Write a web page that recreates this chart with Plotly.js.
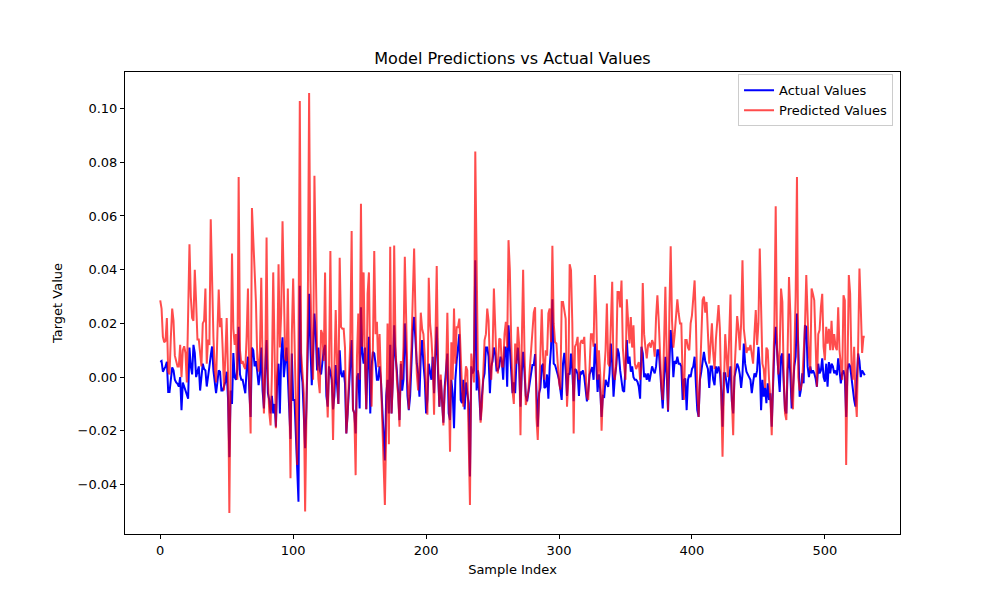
<!DOCTYPE html>
<html>
<head>
<meta charset="utf-8">
<script src="https://cdn.plot.ly/plotly-3.0.1.min.js"></script>
<style>
  html, body { margin: 0; padding: 0; background: #ffffff; }
  #chart { width: 1000px; height: 600px; }
</style>
</head>
<body>
<div id="chart"></div>
<script>
// Values, in thousandths of the target unit (value / 1000).
const actualMilli = [
  5.7, 6, 2, 3, 4, 5.7, -5.5, -5.5, 0, 3.6, 2.5, -1, -2, -2.5, -3.5, 0, -12.3, -2, -3.5, -5,
  -6, -8, 11, 4, 1, 12, 9, 0, 2, 4, -5, 1, 5, 3, 2.5, -3.5, 1.4, 4, 8, 11.4,
  2.5, -1, -6, -2, 2.5, 2, -5, -5, -3, -1.7, 2, -8, -29.8, -5, -10, 9, 0, -1, 3, 18.7,
  1, -1, -1, -3, -6, 3, 7.6, -5, -14.8, 11, 10, 4, 6, 2, -3, 1, 11, -5, -11.7, 3,
  13.8, -6, -8.5, -13.5, -7, -13.5, -10, -18.5, -1, 5, -13.5, 8, 14.8, 0, 5, 11, 0, -15, -23, 8.8,
  -8.5, -8.5, -20, -32.7, -46.4, 34, 2.5, -2, -15, -26.5, -11, 15, 31, 11, -3, 9, 23.7, 16, 2.5, 11,
  2.5, 1, 6, 10, 12, -7, -11, 4,
  2, -1, -12, -7, 4.5, -3.5, -10, 10, 1.4, 0, 2.5, -2.3, -21, -13.5, -1, 5, 13.8, -12, -13.5, -21,
  0, 1.4, -11.7, 26, 8.8, 5, 11, -12, 5, 15, -13.5, 4, 9.4, 8.8, 5, -1, -1, 4, -1, -13.5,
  -21, -31, -7, -1, -13.5, 12, -13.5, -1, 19.3, 7.6, 2.5, -6, -16, 5, -5, -1, 20, 8.8, -7, -12.3,
  -7, 5, 17.5, 22.4, 13.8, 5, 1.4,
  -7.3, 7.6, 13.8, 5, -1, -13.5, -8.5, 5, 1.4, -1, 7.6, -6, 7.6, 18.7, 1.4, -11, -1, -8.5, -17, -3.6,
  1.4, 8.8, -13.5, -16, -1, -6, -19, -1, 6, 11, 16, -8.5, -9.7, -1, -12, -2, -5, -9.7, -37, 4,
  1.4, 2.5, 43.5, -5, 2.5, -5, -16, -7.3, -1, 1.4, 11, 11, 7.6, -6, 4, 6, 11, 8.8, 2.5, 2.5,
  4, 7.6, 6, -1, 11, 11, -3.6, 19.3,
  12, 2, -6, -2, -6, 6, 11, 4, -11, 2, 9.4, 2, -7, -9, -5, -1, 1.4, 4.5, 4.5, 8.6,
  -5, -18.5, -6, -4, 4, 5, -4, -3.6, 1, -8, 4, 11, 29, 5, 4.5, 3, 1, -1, -5, -8.5,
  5, 9, 2.5, -7, 1.4, 1, 8.8, 2.5, -9, 3, 2.5, 1, -7, 2, 1.4, 2.5, 0, -5, -9, -5,
  1, 2.5, 3.7, -1, 12.5, 5, -5.5,
  1, -5, -14.8, -7, -7.3, -1, -2.3, -3.6, 1.4, 12.5, 5, -7.3, 0, 4, 10.7, 8.8, 2.5, -1, -5, -5.5,
  2.5, 13.8, 5, 7.6, 2, 4, 0, -1, -1, -1.7, -3.6, -8, 11.3, 8.8, 0, 1.4, -1, 1.4, -1.7, 1.4,
  4, 2.5, 1.4, 4, 10, 10, 2.5, -5, -11.7, -1, 7.6, 1.4, -12.9, 5, 17.5, 11.3, 0, 6, 5, 7.6,
  5, 5, 4, -8.5, -1, -0.5, -12.3, -1,
  1, 0, 3, 4, 7.6, -3, -12.3, -14.8, -1, 2, 6, 9.4, 6, 4.5, 3, -4, 4, 4, -1, -3,
  4, 1.4, 4, 2, -5, -18.5, 1.4, 1.4, -3, -6, 0, 4, -9, -13.5, 0, 2.5, 5, 3.7, 1, -4,
  1, 12.5, 5, 2, 0.6, 0, -1, -6, -2, 1.4, 0, 2.5, 11.3, 4, -12.3, -1, -7.3, -4, -9.7, -2.3,
  -8.5, -6, -18.5, 1.4, 11.3, 18.7, 7.6, 1.4, -5.5, 7.6, 8.8,
  -3.6, -12.3, -13.5, 2.5, 8.8, 1.4, -11.7, -1, 4, 7.6, 23.7, 11, -7.3, -4.6, 1.4, -2.3, 19.3, 18.7, 4, 0,
  4, 1.4, 2.5, 1.4, -0.5, -3.6, 5, 1.4, 2.5, 7, 0, -1.7, 5, -3.6, 5.6, 1.4, 5, 4, 1.4, 2.5,
  0.7, 7, 1.4, -2.3, 1.4, 2.5, 0, -14.8, 2.5, 5, 4, -1, -3.6, -8.5, -11, 1.4, 8.8, 6, 0, 2.5,
  1.4, 0.7
];

const predictedMilli = [
  28.6, 25.5, 15, 13, 13.5, 22, 2, 1, 15, 25.5, 21, 8, 6, 4, 4, 12, 0, 10, 11.5, 9,
  -2, 20, 49.5, 30, 22, 21, 40, 28, 14, 14, 10, 4, 20, 21, 33, 5, 14, 12, 58.8, 35,
  15, 3, -2, 16, 32.6, 18.6, 22, 10, -5, 8, 22, 1, -50.6, 5, 46, 18, 12, 16, -1, 74.5,
  10, 5, 6, 4, 3, 15, 33, -1, -21, 63, 52, 45, 28, 7, 2, 10, 37, 4, -13.5, 2,
  52, 0, -13, -18, 1, 39, -1, -19, 4, 42, 11, 24, 58, 30, 7, 6, 33, -1, -37.7, 16,
  36.7, 14, -7, -32.7, 11, 102.8, 9, -1, -6, -50, -1, 24, 105.8, 36, 9, -1, 75, 30, 9, -1,
  -6, 17.5, 16, 6, 39, -1, -15, 5,
  47, 3, -23.4, 2.5, 25, 5, -10, 44.4, 18.7, 18, 18, 11, -21, -13.5, 2.5, 14, 54.4, -12, -13.5, -36.5,
  7.6, 23.7, -1, 64.6, 11.3, 39, 5, -12, 31, 39, 2.5, -11, 11.3, 47, 16, 20.6, 3.7, 16, 0, -13.5,
  -31, -47.6, -19, 20, -25, 48.5, -13.5, -1, 49, 11.3, -1, -7, -18.5, 6, -1, 11.3, 44.8, 17.5, -1, -12,
  -1, 11.3, 30, 47.9, 23.7, 1.4, -5,
  5, 24, 18, 16, 8, -6, -14, 37, 20, 14.4, 5, -14, 15, 41.4, 5, -11, 1, -7, -18, -5,
  0, 24, -5, -27.8, 13, -1, 25.5, 5, 18.6, 18.6, 21.8, 5, -4, -11, -1, 4, 2.5, -20, -47.6, 8.8,
  2.5, -2, 84, 40, 2.5, -1, -17, -11, 5, 13.8, 16, 25.5, 21, 5, -1, 9, 33, 17.5, 5, 1.4,
  14.4, 14, 4, 4, 16, 20.6, 11, 51,
  40, 14, -5, -10, 12.5, 5, 18.7, 12, -21.6, 13, 40, 10, -10.4, -8, -5, 3, 11.3, 19, 24, 26,
  -15, -23.4, -5, 5, 25.3, 8, -1, 10, 8, 23.7, 25.5, 13, 48.9, 20, 13, 12.5, 4, -2, -4.6, 28,
  28, 24, 21.7, -11, -1, 42, 39.8, 20, -21, 11.3, 12.5, 15, -1, 12.5, 13.8, 12.5, 15, 2.5, -7.3, -8.5,
  5, 16, 16, 11.3, 38, 23.7, -1,
  10, 1, -20, -6, 4, 10, 27.4, 5, 4, 21, 35.5, 1.4, -1, 5, 31.7, 31.7, 26, 36, 11, 4,
  -1, 29, 22, 12.5, 22.4, 11, 19.3, 5, 3, 4, 5.6, -1, 4, 35, 16, 11, 7, 12, 12.5, 11,
  13.8, 12.5, 7.6, 22.4, 30.5, 21, 7.6, -3.6, -8.5, 11, 33.6, 7.6, -12.3, 23.7, 48.7, 21, 11, 16, 23.7, 29,
  23.7, 20, 20, -1, -8.5, 13.8, 13.8, 11,
  10, 20, 23, 30, 36, 20, -5, -14.8, 2, 15, 28.6, 30, 24, 28, 14, 5, 12, 20, 9, 3,
  14, 22, 26.8, 18, -1, -29.6, -5, 16, 8, 0, 15, 30.8, -8, -21.6, 2, 12, 22.7, 18, 10, 20,
  43.5, 18, 12, 9, 11, 10, 12, 9, 5, 16, 25, 12, 20, 47.9, 20, 5, 3, -4, 11, 10,
  -1, -8, -21.6, 3, 20, 63.6, 11, 1, 10, 33, 28,
  1, -13.5, -16, 11, 37.3, 23.7, -7, -12, 11, 30, 74.5, 0, -5, -4, -1, 7.6, 18.7, 38, 26, 7.6,
  2.5, 33, 31, 28.6, 12.5, -3.6, 16, 17.5, 26, 31, 11.3, 6.3, 18.7, 12.5, 18, 10, 21, 10, 16, 11.3,
  10, 26, 10, 5, -1, 30.5, 28.6, -32.7, -1, 38, 31, 5, -1, 11.3, -7.3, -14.8, 11.3, 40.4, 26, 9,
  15, 15
];

const seriesNames = ['Actual Values', 'Predicted Values'];
const chartTitle = 'Model Predictions vs Actual Values';
const xLabel = 'Sample Index';
const yLabel = 'Target Value';
const xTicks = [0, 100, 200, 300, 400, 500];
const yTicks = [-0.04, -0.02, 0.00, 0.02, 0.04, 0.06, 0.08, 0.10];

const actual = actualMilli.map(v => v / 1000);
const predicted = predictedMilli.map(v => v / 1000);
const sampleIndex = actual.map((_, i) => i);

const font = 'DejaVu Sans, Verdana, sans-serif';

const traces = [
  {
    x: sampleIndex, y: actual, type: 'scatter', mode: 'lines',
    name: seriesNames[0],
    line: { color: '#0000ff', width: 2 }
  },
  {
    x: sampleIndex, y: predicted, type: 'scatter', mode: 'lines',
    name: seriesNames[1],
    line: { color: 'rgba(255,0,0,0.7)', width: 2 }
  }
];

const xmin = 0, xmax = sampleIndex.length - 1;
const allY = actual.concat(predicted);
const ymin = Math.min(...allY), ymax = Math.max(...allY);
const xpad = (xmax - xmin) * 0.05, ypad = (ymax - ymin) * 0.05;

const axisCommon = {
  showgrid: false, zeroline: false, showline: true, mirror: true,
  linecolor: '#000', linewidth: 1,
  ticks: 'outside', ticklen: 4, tickwidth: 1, tickcolor: '#000',
  tickfont: { family: font, size: 13, color: '#000' }
};

const layout = {
  width: 1000, height: 600,
  paper_bgcolor: '#fff', plot_bgcolor: '#fff',
  margin: { l: 125, r: 100, t: 72, b: 66 },
  font: { family: font, color: '#000' },
  title: {
    text: chartTitle, font: { family: font, size: 16, color: '#000' },
    x: 0.5125, xanchor: 'center', y: 0.903, yanchor: 'middle'
  },
  xaxis: Object.assign({}, axisCommon, {
    range: [xmin - xpad, xmax + xpad],
    tickvals: xTicks, ticktext: xTicks.map(String),
    title: { text: xLabel, font: { family: font, size: 13, color: '#000' }, standoff: 8 }
  }),
  yaxis: Object.assign({}, axisCommon, {
    range: [ymin - ypad, ymax + ypad],
    tickvals: yTicks, ticktext: yTicks.map(v => (v < 0 ? '\u2212' : '') + Math.abs(v).toFixed(2)),
    title: { text: yLabel, font: { family: font, size: 13, color: '#000' }, standoff: 12 }
  }),
  showlegend: true,
  legend: {
    x: 0.991, xanchor: 'right', y: 0.995, yanchor: 'top',
    bgcolor: 'rgba(255,255,255,0.8)', bordercolor: '#cccccc', borderwidth: 1,
    font: { family: font, size: 13, color: '#000' },
    tracegroupgap: 0, itemwidth: 30
  }
};

Plotly.newPlot('chart', traces, layout, { staticPlot: true, displayModeBar: false });
</script>
</body>
</html>
